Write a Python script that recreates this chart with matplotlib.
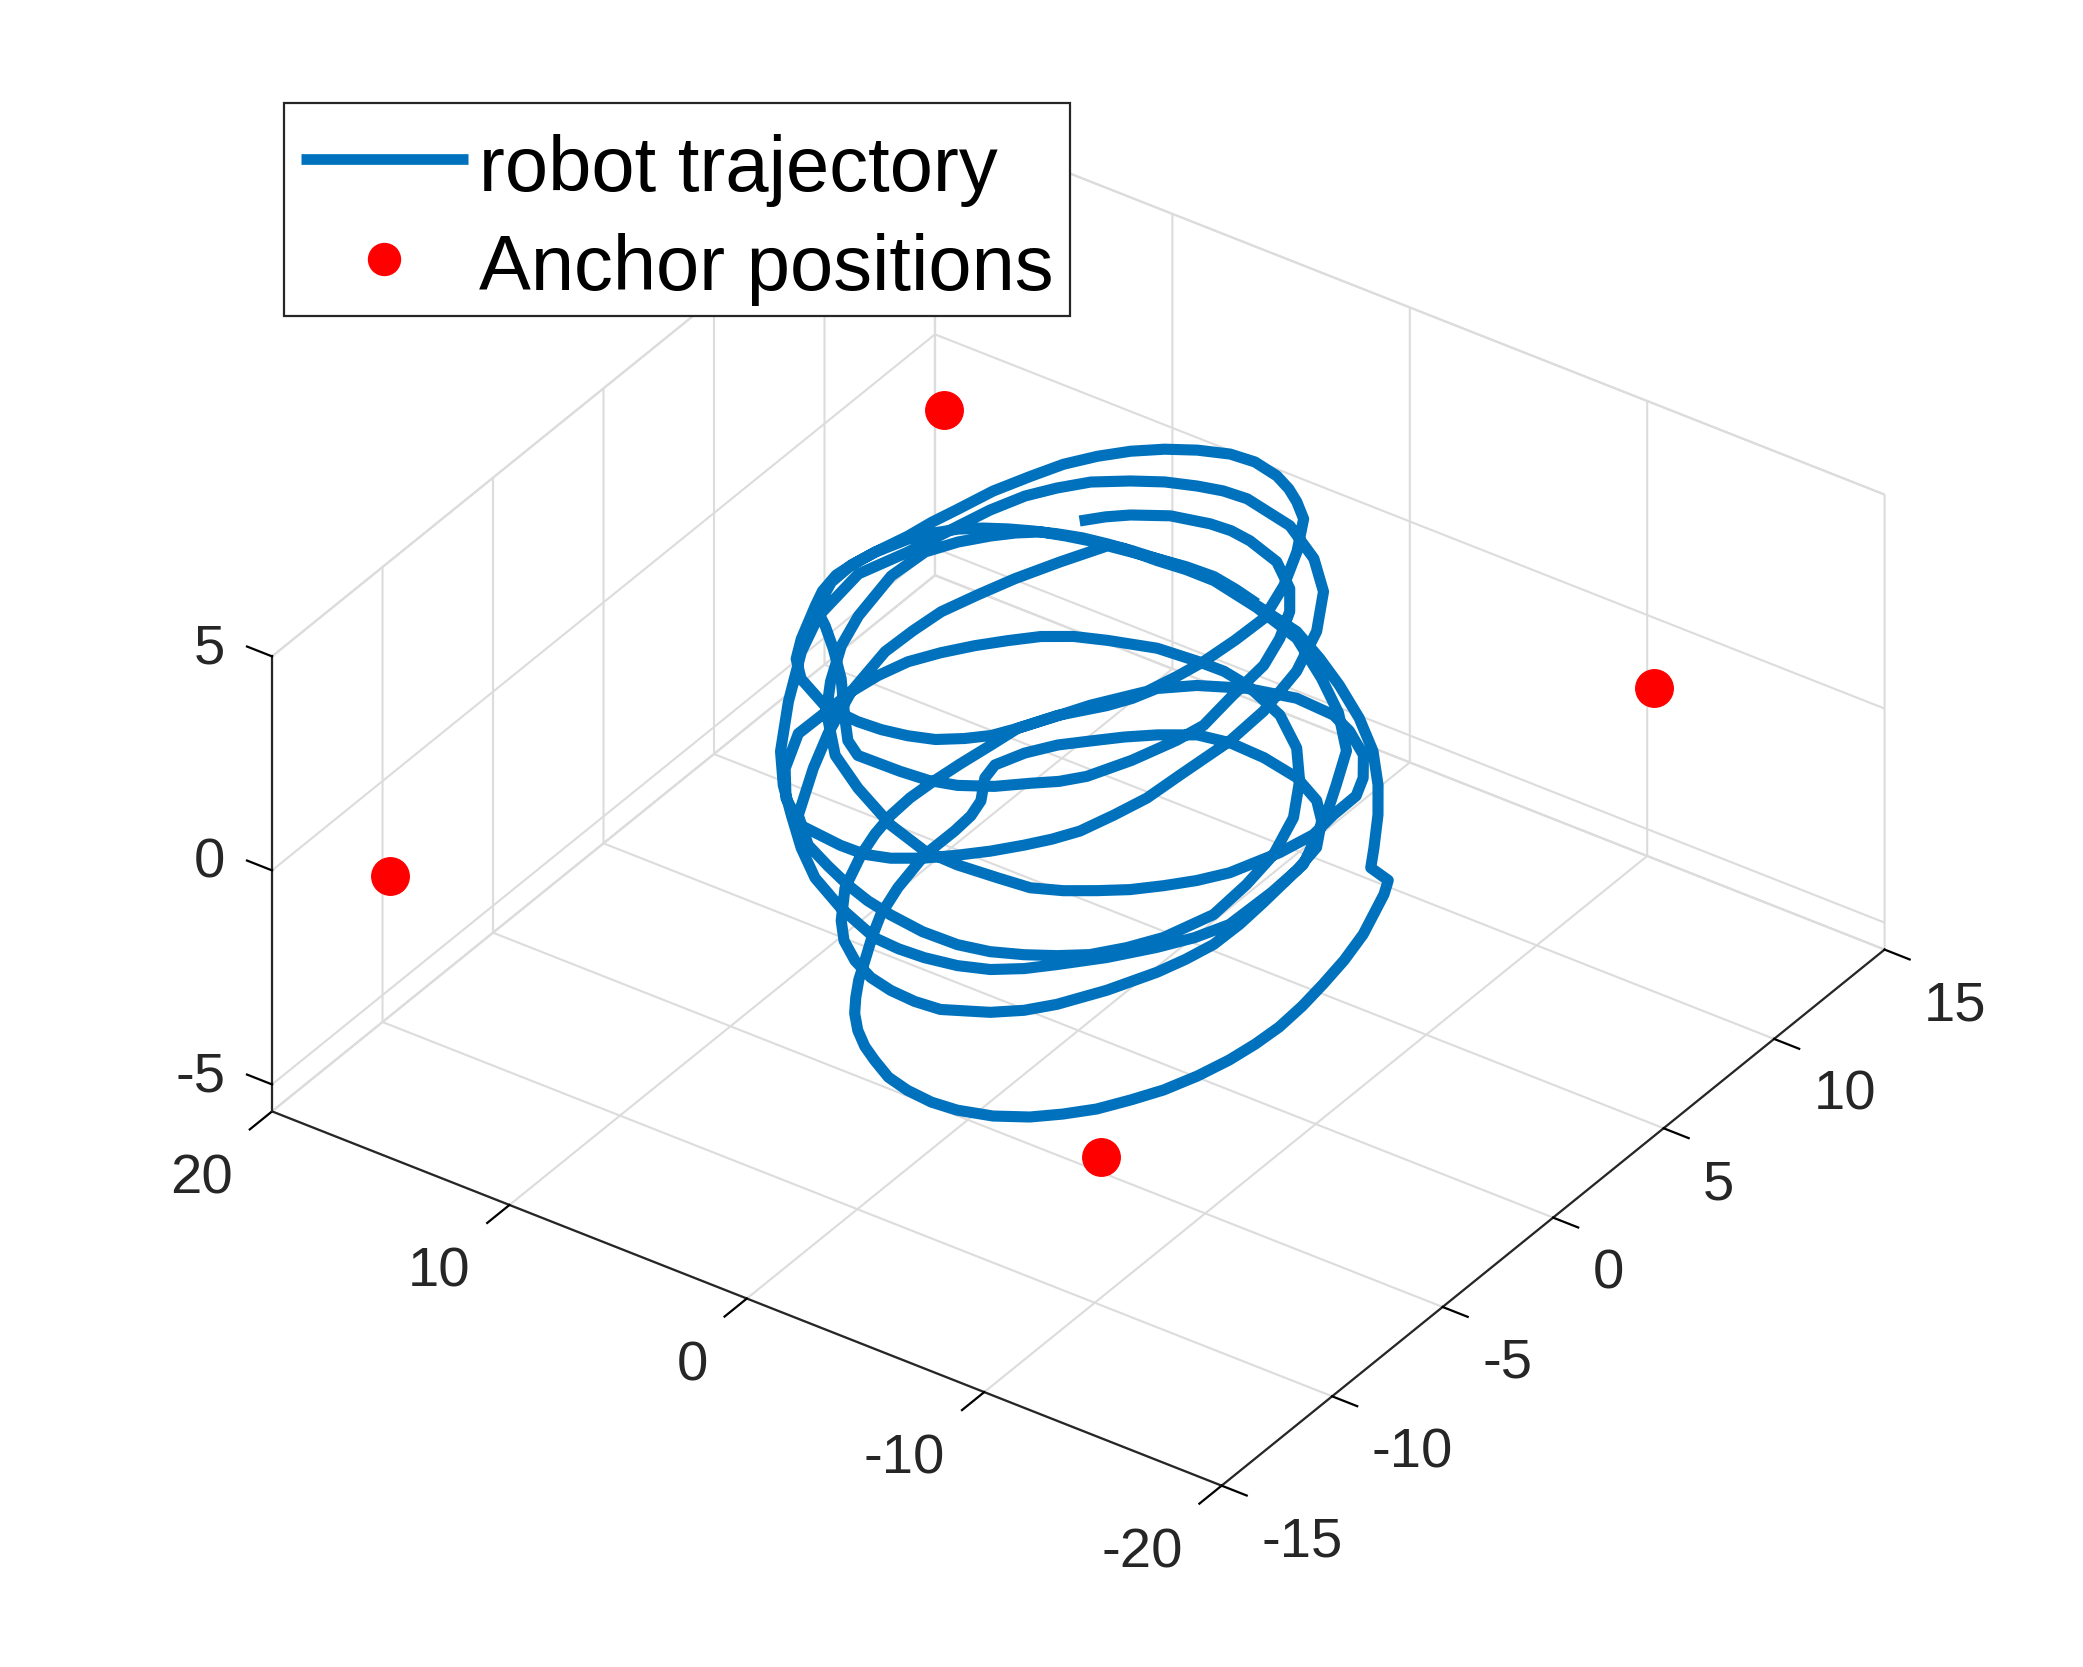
"""Robot trajectory and anchor positions, 3D view."""

import matplotlib

matplotlib.use("Agg")
import matplotlib.pyplot as plt
from matplotlib.lines import Line2D
from matplotlib.patches import Rectangle
from mpl_toolkits.mplot3d import proj3d

plt.rcParams["font.family"] = ["Liberation Sans", "DejaVu Sans"]
plt.rcParams["axes.unicode_minus"] = False

BLUE = "#0072BD"
RED = "#FF0000"
DARK = "#262626"
GRID = "#DCDCDC"

X_TICKS = [20, 10, 0, -10, -20]
Y_TICKS = [-15, -10, -5, 0, 5, 10, 15]
Z_TICKS = [-5, 0, 5]

ANCHOR_X = [17.1, -12.75, -13.5, 16.45]
ANCHOR_Y = [12.3, 12.37, -13.47, -13.48]
ANCHOR_Z = [0, 0, 0, 0]

TRAJ_X = [
    4.87, 4.28, 3.64, 2.48, 1.07, 0.24, -0.65, -2.14, -3.45, -4.25, -4.91, -5.40, -5.58, -5.80, -5.56, -4.99,
    -4.28, -3.67, -2.92, -2.01, -0.93, 0.06, 1.17, 2.94, 3.74, 4.59, 6.10, 7.37, 8.40, 9.24, 9.76, 9.79,
    9.57, 9.09, 8.60, 8.03, 7.36, 6.62, 5.85, 5.04, 4.19, 3.28, 2.33, 1.35, 0.21, -0.96, -2.03, -3.11,
    -5.15, -6.74, -8.24, -9.95, -11.50, -12.83, -13.87, -14.91, -15.52,
    -8.96, -9.33, -10.14, -10.51, -10.75, -10.93, -11.01, -10.93, -10.75, -10.41, -9.94, -9.36, -8.71, -7.93, -7.10, -6.02,
    -4.80, -3.79, -2.69, -1.70, -0.72, 0.05, 0.81, 1.49, 2.02, 2.56, 3.05, 3.66, 4.21, 4.67, 5.06, 5.05, 5.12, 5.36, 6.05, 6.22,
    5.79, 5.14, 4.35, 3.53, 2.67, 1.54, 0.33, -1.15, -2.77, -4.14, -4.98, -5.78, -6.02, -6.20, -6.29, -6.26,
    -5.99, -5.63, -4.84, -3.92, -3.20, -2.31, -0.80, 0.21, 1.27, 2.29, 3.33, 4.34, 5.12, 6.16, 6.86, 7.20, 7.41, 7.47, 7.40,
    6.49, 5.53, 4.61, 3.61, 2.61, 0.74, 0.04, -0.57, -1.46, -2.26, -2.43, -2.36, -2.90,
    -2.11, -1.43, -0.64, 0.47, 1.45, 2.52, 3.48, 4.37, 5.13, 5.81, 6.32, 6.87, 7.23, 7.51, 7.70, 8.07, 8.29, 8.37, 8.20,
    7.88, 7.12, 6.57, 5.73, 4.11, 2.62, 1.67, 0.72, -0.20, -0.99, -1.64, -2.13, -2.81, -3.87, -4.33, -4.68, -5.71,
    -5.72, -5.98, -6.87, -7.13, -8.36, -9.16, -9.59, -9.61, -8.99, -8.66,
    -7.20, -6.54, -5.79, -4.97, -4.07, -3.12, -2.08, -0.80, 0.78, 2.20, 4.06, 6.28, 8.08, 9.87, 10.80,
    10.25, 10.06, 9.78, 8.91,
    7.95, 6.86, 6.26, 5.59, 4.74, 3.86, 2.63, 1.28, 0.15, -1.03, -3.18,
    -4.64, -5.99, -6.94, -7.74, -8.64, -9.41,
    -9.00, -9.08, -9.01, -8.48, -7.75, -6.69, -5.53, -4.74, -3.81, -2.74, -1.53, -0.49, 0.57, 2.58, 4.36, 5.80, 7.23, 8.50, 9.77, 11.29,
    11.17, 11.19, 10.78, 9.39,
    8.13, 7.79, 7.29, 6.67, 5.92, 4.83, 3.83, 2.76, 1.86, 0.90, -1.25, -3.08, -4.51, -5.71, -6.54, -7.00, -7.09,
    -6.87, -6.74, -6.40, -6.00, -5.49, -4.91, -4.16, -3.37, -2.52, -1.59, -0.71, 0.28, 2.10, 3.47, 4.54, 5.39, 5.37,
    6.11, 6.29, 6.30, 6.06, 5.72, 5.34, 4.92, 4.37, 3.64, 1.96,
    1.12, 0.02, -1.12, -3.10, -4.73, -5.96, -7.08, -7.81, -8.09, -8.21, -7.60, -6.91, -6.11, -5.21, -4.25, -3.18,
    -2.01, -0.57, 0.93, 2.06, 3.18, 4.41, 5.70, 7.03, 8.25, 9.05,
    9.11, 8.80, 8.37, 7.86, 7.04, 6.18, 4.73, 3.21, 1.35, 0.25, -0.89, -1.96, -3.04,
]
TRAJ_Y = [
    5.29, 5.83, 6.27, 6.83, 7.12, 7.17, 7.07, 6.68, 5.86, 5.00, 3.84, 2.59, 0.95, -0.56, -1.52, -2.94,
    -4.21, -4.81, -5.31, -5.96, -6.47, -6.71, -6.79, -6.82, -6.41, -5.63, -4.18, -3.17, -2.43, -1.92, -0.69, 0.25,
    1.09, 2.07, 2.66, 3.18, 3.59, 3.93, 4.22, 4.48, 4.70, 4.84, 4.95, 5.02, 5.11, 5.11, 4.95, 4.74,
    4.35, 3.68, 2.96, 2.02, 0.98, -0.22, -1.34, -2.64, -3.44,
    4.40, 3.81, 2.00, 0.74, -0.47, -1.61, -2.74, -3.73, -4.72, -5.79, -6.82, -7.68, -8.53, -9.22, -9.82, -10.33,
    -10.64, -10.72, -10.63, -10.42, -9.99, -9.61, -9.11, -8.52, -7.90, -7.18, -6.38, -5.41, -4.42, -3.15, -1.51, -0.17, 0.64, 1.35, 2.27, 2.91,
    3.80, 4.59, 5.23, 5.88, 6.45, 7.04, 7.23, 7.17, 6.91, 6.34, 5.66, 4.57, 3.41, 1.72, 0.54, -0.60,
    -1.57, -2.49, -3.91, -5.18, -5.89, -6.47, -7.10, -7.18, -7.12, -6.93, -6.53, -5.94, -5.23, -3.94, -2.46, -1.46, -0.51, 0.41, 1.28,
    1.62, 1.98, 2.21, 2.76, 3.35, 3.91, 4.52, 5.08, 5.52, 5.97, 6.69, 7.36, 7.08,
    7.62, 7.99, 8.30, 8.50, 8.43, 8.09, 7.64, 7.06, 6.38, 5.58, 4.64, 3.52, 2.32, 1.45, 0.57, -0.52, -1.37, -1.97, -2.77,
    -3.44, -4.89, -5.71, -6.39, -7.05, -7.16, -7.11, -6.95, -6.68, -6.21, -5.70, -5.05, -3.97, -2.86, -2.22, -1.48, -0.77,
    1.47, 3.45, 4.17, 4.61, 3.92, 3.05, 2.27, 1.22, 0.98, -0.20,
    -0.89, -1.67, -2.35, -3.00, -3.53, -4.03, -4.41, -4.52, -4.63, -4.59, -4.12, -3.22, -2.32, -0.80, 0.39,
    0.29, 0.86, 2.04, 2.64,
    3.10, 3.41, 3.89, 4.30, 4.52, 4.70, 4.91, 4.95, 5.04, 5.04, 4.66,
    4.90, 4.57, 4.32, 3.82, 2.39, 1.12,
    0.51, -1.01, -2.84, -3.85, -4.78, -5.90, -6.90, -7.54, -8.08, -8.42, -8.61, -8.66, -8.60, -7.98, -7.23, -6.31, -5.22, -4.22, -2.98, -0.99,
    -0.53, 0.27, 1.63, 2.39,
    3.30, 4.37, 5.42, 6.19, 6.92, 7.55, 8.02, 8.35, 8.55, 8.61, 8.23, 7.35, 6.25, 4.65, 2.85, 0.86, -0.77,
    -2.79, -4.14, -5.27, -6.37, -7.09, -7.73, -8.46, -9.10, -9.71, -10.20, -10.44, -10.46, -10.30, -9.50, -8.39, -6.88, -5.87,
    -3.71, -2.31, -0.94, 0.29, 1.46, 2.54, 3.59, 4.48, 5.24, 5.68,
    6.59, 6.61, 6.43, 5.79, 4.80, 3.61, 2.13, 0.44, -1.08, -2.70, -4.30, -5.23, -6.04, -6.57, -7.02, -7.41,
    -7.63, -7.66, -7.50, -7.31, -7.01, -6.59, -6.10, -5.12, -3.13, -1.60,
    -0.49, 0.71, 1.51, 2.24, 3.02, 3.77, 4.28, 4.77, 5.02, 5.15, 5.19, 5.03, 4.81,
]
TRAJ_Z = [
    3, 3, 3, 3, 3, 3, 3, 3, 3, 3, 3, 3, 3, 3, 3, 3,
    3, 3, 3, 3, 3, 3, 3, 3, 3, 3, 3, 3, 3, 3, 3, 3,
    3, 3, 3, 3, 3, 3, 3, 3, 3, 3, 3, 3, 3, 3, 3, 3,
    3, 3, 3, 3, 3, 3, 3, 3, 3,
    -2, -2, -2, -2, -2, -2, -2, -2, -2, -2, -2, -2, -2, -2, -2, -2,
    -2, -2, -2, -2, -2, -2, -2, -2, -2, -2, -2, -2, -2, -2, -2, -2, -2, -2, -2, -2,
    -2, -2, -2, -2, -2, -2, -2, -2, -2, -2, -2, -2, -2, -2, -2, -2,
    -2, -2, -2, -2, -2, -2, -2, -2, -2, -2, -2, -2, -2, -2, -2, -2, -2, -2, -2,
    -1.5, -1, -0.5, -0.25, 0, 0.5, 0.75, 1, 1.5, 2, 2.5, 3, 4,
    4, 4, 4, 4, 4, 4, 4, 4, 4, 4, 4, 4, 4, 4, 4, 4, 4, 4, 4,
    4, 4, 4, 4, 4, 4, 4, 4, 4, 4, 4, 4, 4, 4, 4, 4, 4,
    3, 2, 1.5, 1, 1, 1, 1, 1, 0.5, 0.5,
    0, 0, 0, 0, 0, 0, 0, 0, 0, 0, 0, 0, 0, 0, 0,
    1, 1.5, 2, 2.5,
    2.75, 3, 3, 3, 3, 3, 3, 3, 3, 3, 3,
    2.5, 2, 1.5, 1, 1, 1,
    0, 0, 0, 0, 0, 0, 0, 0, 0, 0, 0, 0, 0, 0, 0, 0, 0, 0, 0, 0,
    1, 1.5, 2, 2.5,
    3, 3, 3, 3, 3, 3, 3, 3, 3, 3, 3, 3, 3, 3, 3, 3, 3,
    3, 3, 3, 3, 3, 3, 3, 3, 3, 3, 3, 3, 3, 3, 3, 3, 3,
    2.5, 2.25, 2, 1.75, 1.5, 1.25, 1, 0.75, 0.5, 0.5,
    0, 0, 0, 0, 0, 0, 0, 0, 0, 0, 0, 0, 0, 0, 0, 0,
    0, 0, 0, 0, 0, 0, 0, 0, 0, 0,
    0.5, 1, 1.25, 1.5, 1.75, 2, 2.5, 3, 3, 3, 3, 3, 3,
]

fig = plt.figure(figsize=(20.83, 16.67), dpi=100)
ax = fig.add_axes([256.7 / 2083, 42.4 / 1667, 1600 / 2083, 1600 / 1667], projection="3d", proj_type="ortho")
ax.view_init(elev=34.37, azim=-55.08)
ax.set_box_aspect((1, 1, 0.476), zoom=1.0485)

ax.plot(TRAJ_X, TRAJ_Y, TRAJ_Z, color=BLUE, lw=8.0, solid_capstyle="butt", solid_joinstyle="round")
ax.plot(ANCHOR_X, ANCHOR_Y, ANCHOR_Z, ls="none", marker="o", color=RED, ms=27)

ax.set_xlim(20, -20)
ax.set_ylim(-15, 15)
ax.set_zlim(-5.63, 5)
ax.set_xticks(X_TICKS)
ax.set_yticks(Y_TICKS)
ax.set_zticks(Z_TICKS)
ax.set_xticklabels([])
ax.set_yticklabels([])
ax.set_zticklabels([])
ax.zaxis._axinfo["juggled"] = (1, 2, 0)

for axis, tick_out in ((ax.xaxis, -0.42), (ax.yaxis, -0.33), (ax.zaxis, 0.33)):
    axis.set_pane_color((1, 1, 1, 1))
    axis.pane.set_edgecolor(GRID)
    axis.pane.set_linewidth(1.5)
    axis.line.set_color(DARK)
    axis.line.set_linewidth(1.6)
    axis._axinfo["grid"].update(color=GRID, linewidth=1.5)
    axis._axinfo["tick"].update(inward_factor=0.0, outward_factor=tick_out, linewidth={True: 1.6, False: 1.6}, color=DARK)


def tick_label(x, y, z, label, ha):
    # tick labels sit off the axes edges, native pad can't reach these spots
    px, py, _ = proj3d.proj_transform(x, y, z, ax.get_proj())
    ax.text2D(px, py, label, transform=ax.transData, fontsize=40.5, color=DARK, ha=ha, va="center")


for value in X_TICKS:
    tick_label(value - 1.27, -15 - 3.13, -5.63, str(value), "right")
for value in Y_TICKS:
    tick_label(-20 - 3.11, value - 1.55, -5.63, str(value), "left")
for value in Z_TICKS:
    tick_label(20 + 1.57, -15 - 0.43, value, str(value), "right")

fig.add_artist(
    Rectangle(
        (284 / 2083, 1 - 316 / 1667),
        786 / 2083,
        213 / 1667,
        transform=fig.transFigure,
        facecolor="white",
        edgecolor=DARK,
        linewidth=1.6,
        zorder=4,
    )
)
handles = [
    Line2D([], [], color=BLUE, lw=7.7, solid_capstyle="butt"),
    Line2D([], [], ls="none", marker="o", color=RED, ms=23),
]
legend = fig.legend(
    handles,
    ["robot trajectory", "Anchor positions"],
    loc="upper left",
    bbox_to_anchor=(284 / 2083, 1 - 112.5 / 1667),
    borderaxespad=0,
    fontsize=56,
    frameon=False,
    borderpad=0.22,
    handlelength=2.14,
    handletextpad=0.15,
    labelspacing=0.34,
)
legend.set_zorder(5)
for text in legend.get_texts():
    text.set_y(-4)

fig.savefig("out.png", dpi=100)
